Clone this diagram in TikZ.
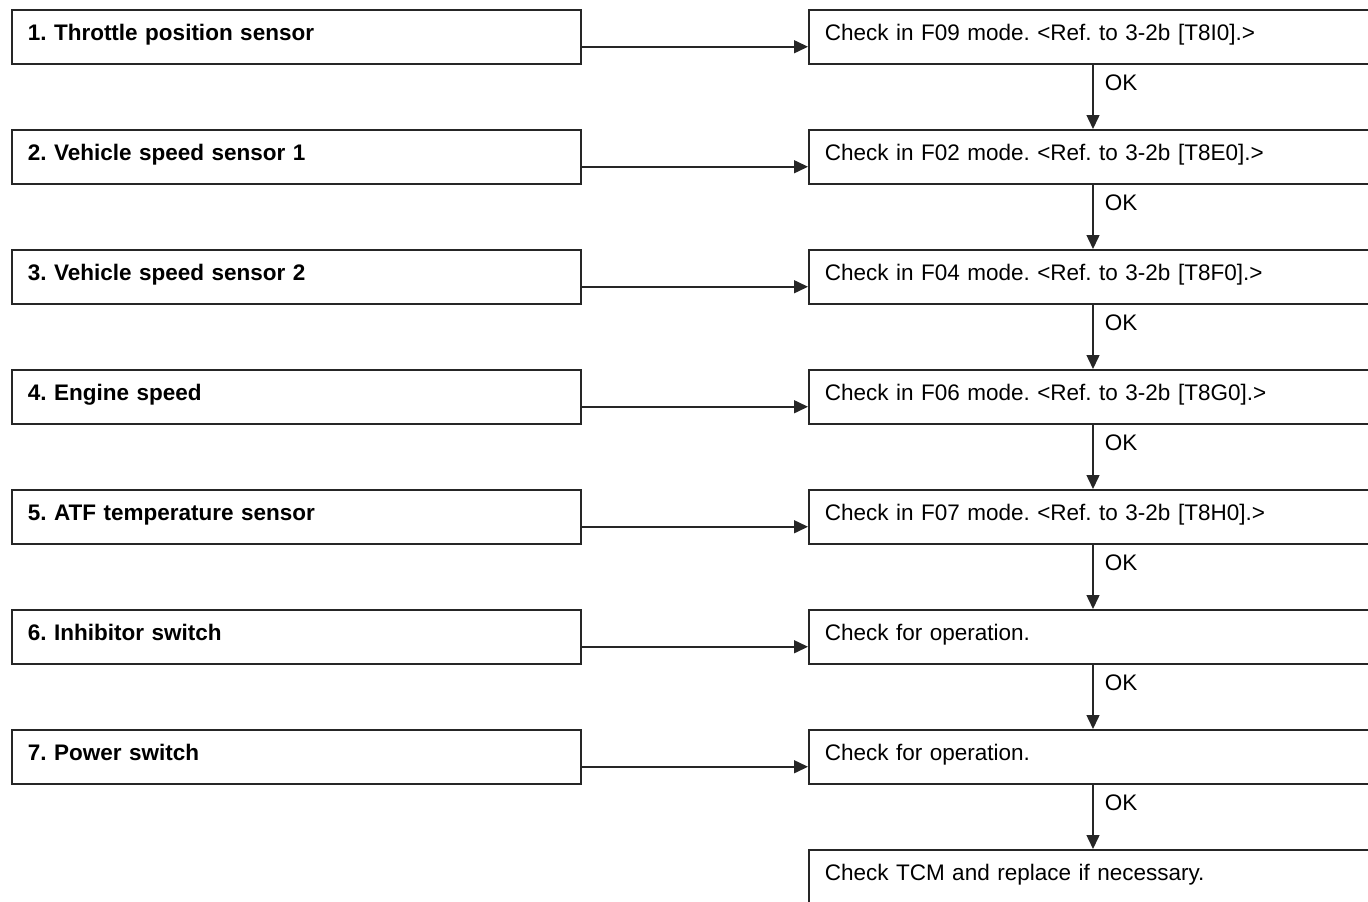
\documentclass[tikz,border=0pt]{standalone}
\usepackage{fontspec}
\setmainfont{Liberation Sans}
\frenchspacing
\usetikzlibrary{arrows.meta,shapes}
\tikzstyle{sbox}=[rectangle,draw=black!85,line width=1.5pt,anchor=north west,minimum height=54pt,text width=537pt,inner xsep=16pt,align=left,text height=14pt,text depth=6pt,font=\fontsize{22.5}{27}\selectfont\bfseries]
\tikzstyle{cbox}=[sbox,text width=600pt,font=\fontsize{22.5}{27}\selectfont]
\tikzstyle{flow}=[-{Triangle[length=14pt,width=13pt]},line width=1.5pt,draw=black!85]
\tikzstyle{ok}=[anchor=west,xshift=9pt,inner sep=2pt,font=\fontsize{22.5}{27}\selectfont]

\begin{document}
\begin{tikzpicture}[x=1pt,y=-1pt]
\useasboundingbox (0,0) rectangle (1368,902);
\clip (0,0) rectangle (1368,902);
% items to test
\node[sbox] (S1) at (11,9) {1. Throttle position sensor};
\node[sbox] (S2) at (11,129) {2. Vehicle speed sensor 1};
\node[sbox] (S3) at (11,249) {3. Vehicle speed sensor 2};
\node[sbox] (S4) at (11,369) {4. Engine speed};
\node[sbox] (S5) at (11,489) {5. ATF temperature sensor};
\node[sbox] (S6) at (11,609) {6. Inhibitor switch};
\node[sbox] (S7) at (11,729) {7. Power switch};
% checks
\node[cbox] (C1) at (808,9) {Check in F09 mode. <Ref. to 3-2b [T8I0].>};
\node[cbox] (C2) at (808,129) {Check in F02 mode. <Ref. to 3-2b [T8E0].>};
\node[cbox] (C3) at (808,249) {Check in F04 mode. <Ref. to 3-2b [T8F0].>};
\node[cbox] (C4) at (808,369) {Check in F06 mode. <Ref. to 3-2b [T8G0].>};
\node[cbox] (C5) at (808,489) {Check in F07 mode. <Ref. to 3-2b [T8H0].>};
\node[cbox] (C6) at (808,609) {Check for operation.};
\node[cbox] (C7) at (808,729) {Check for operation.};
\node[cbox] (TCM) at (808,849) {Check TCM and replace if necessary.};
% item -> check
\draw[flow] ([yshift=-10pt]S1.east) -- ([yshift=-10pt]C1.west);
\draw[flow] ([yshift=-10pt]S2.east) -- ([yshift=-10pt]C2.west);
\draw[flow] ([yshift=-10pt]S3.east) -- ([yshift=-10pt]C3.west);
\draw[flow] ([yshift=-10pt]S4.east) -- ([yshift=-10pt]C4.west);
\draw[flow] ([yshift=-10pt]S5.east) -- ([yshift=-10pt]C5.west);
\draw[flow] ([yshift=-10pt]S6.east) -- ([yshift=-10pt]C6.west);
\draw[flow] ([yshift=-10pt]S7.east) -- ([yshift=-10pt]C7.west);
% OK chain
\draw[flow] ([xshift=285pt]C1.south west) -- node[ok,pos=0.28]{OK} ([xshift=285pt]C2.north west);
\draw[flow] ([xshift=285pt]C2.south west) -- node[ok,pos=0.28]{OK} ([xshift=285pt]C3.north west);
\draw[flow] ([xshift=285pt]C3.south west) -- node[ok,pos=0.28]{OK} ([xshift=285pt]C4.north west);
\draw[flow] ([xshift=285pt]C4.south west) -- node[ok,pos=0.28]{OK} ([xshift=285pt]C5.north west);
\draw[flow] ([xshift=285pt]C5.south west) -- node[ok,pos=0.28]{OK} ([xshift=285pt]C6.north west);
\draw[flow] ([xshift=285pt]C6.south west) -- node[ok,pos=0.28]{OK} ([xshift=285pt]C7.north west);
\draw[flow] ([xshift=285pt]C7.south west) -- node[ok,pos=0.28]{OK} ([xshift=285pt]TCM.north west);
\end{tikzpicture}
\end{document}
